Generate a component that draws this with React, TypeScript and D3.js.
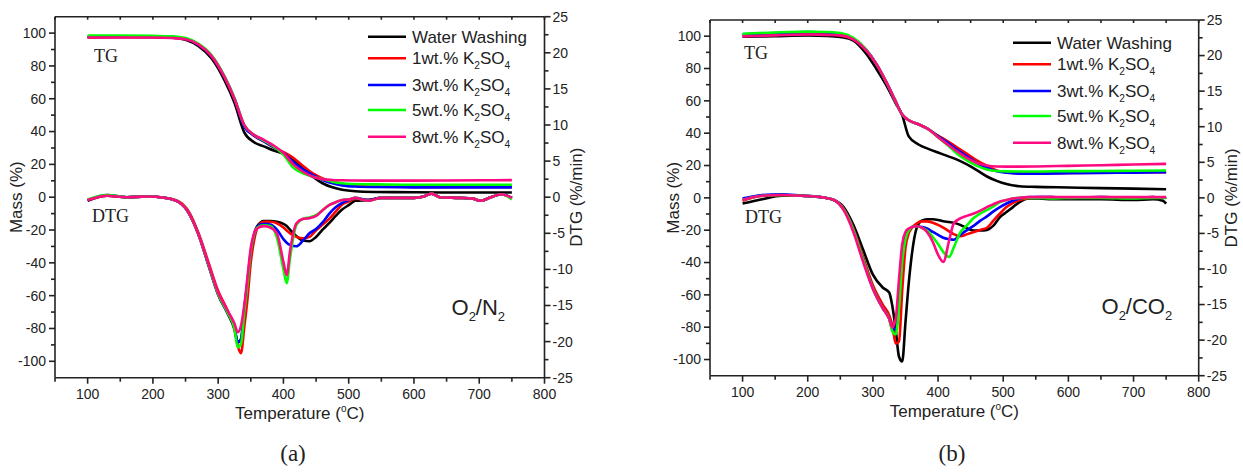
import React from "react";
import * as d3 from "d3";

// ---- data (TG in Mass %, DTG in %/min) ----
const SERIES = ["Water Washing", "1wt.% K_2SO_4", "3wt.% K_2SO_4", "5wt.% K_2SO_4", "8wt.% K_2SO_4"];
const COLORS = ["#000000", "#ff0000", "#0000ff", "#00ff00", "#ff0a80"];

const X_TICKS = [100, 200, 300, 400, 500, 600, 700, 800];
const Y_LEFT_TICKS = [-100, -80, -60, -40, -20, 0, 20, 40, 60, 80, 100];
const Y_RIGHT_TICKS = [-25, -20, -15, -10, -5, 0, 5, 10, 15, 20, 25];

// (a) O2/N2
const T_TG_A = [100, 150, 200, 230, 250, 270, 290, 310, 325, 340, 355, 370, 385, 400, 415, 430, 445, 460, 475, 490, 510, 540, 600, 650, 700, 750];
const TG_A = [
  [97.5, 97.6, 97.5, 97.2, 96.0, 92.0, 84.5, 71.0, 57.5, 39.5, 33.5, 31.0, 28.5, 26.5, 22.5, 17.5, 12.5, 8.5, 6.0, 4.5, 3.6, 3.2, 3.0, 2.9, 2.9, 2.9],
  [97.5, 97.6, 97.6, 97.4, 96.5, 93.0, 86.0, 73.0, 60.0, 43.5, 37.5, 34.0, 30.5, 27.5, 24.0, 19.0, 14.5, 11.5, 9.5, 8.0, 7.0, 6.5, 6.3, 6.3, 6.3, 6.3],
  [97.8, 97.9, 97.8, 97.5, 96.5, 93.0, 86.0, 73.0, 60.0, 43.0, 37.5, 34.0, 30.5, 27.0, 21.5, 17.0, 13.5, 10.5, 8.5, 7.2, 6.5, 6.2, 6.0, 6.0, 6.0, 6.0],
  [98.5, 98.5, 98.3, 98.0, 97.0, 93.5, 86.5, 73.5, 60.5, 44.0, 38.0, 34.5, 31.0, 26.0, 18.0, 14.5, 12.5, 11.0, 9.5, 8.5, 8.0, 7.8, 7.6, 7.6, 7.6, 7.6],
  [97.3, 97.3, 97.3, 97.0, 96.3, 93.0, 86.0, 73.0, 60.0, 44.0, 38.0, 35.0, 31.5, 27.0, 20.0, 15.5, 12.5, 11.0, 10.5, 10.3, 10.2, 10.1, 10.1, 10.2, 10.3, 10.4],
];
const T_DTG_A = [100, 130, 160, 190, 220, 240, 255, 270, 285, 300, 315, 325, 330, 335, 340, 345, 350, 355, 360, 370, 380, 390, 400, 405, 410, 420, 430, 440, 450, 460, 470, 480, 490, 500, 510, 530, 550, 575, 600, 615, 627, 640, 670, 690, 702, 718, 734, 750];
const DTG_A = [
  [-0.5, 0.2, 0.0, 0.1, -0.1, -0.7, -2.2, -5.2, -9.4, -13.5, -16.2, -18.3, -20.1, -19.8, -15.5, -12.0, -8.0, -5.2, -4.0, -3.3, -3.3, -3.4, -3.7, -4.0, -4.5, -5.4, -6.0, -6.1, -5.5, -4.5, -3.6, -2.6, -1.7, -1.1, -0.5, -0.4, -0.1, -0.1, -0.1, 0.1, 0.5, 0.0, -0.1, -0.2, -0.5, 0.0, 0.4, -0.1],
  [-0.4, 0.2, 0.0, 0.1, -0.1, -0.6, -2.0, -5.0, -9.0, -13.0, -15.8, -18.2, -20.6, -21.6, -18.0, -14.0, -9.0, -6.0, -4.3, -3.4, -3.4, -3.6, -4.2, -4.6, -5.0, -5.5, -5.7, -5.5, -4.6, -3.8, -3.0, -2.0, -1.0, -0.6, -0.2, -0.4, -0.1, -0.1, -0.1, 0.1, 0.5, 0.0, -0.1, -0.2, -0.5, 0.0, 0.4, -0.1],
  [-0.4, 0.3, 0.0, 0.1, -0.1, -0.7, -2.2, -5.2, -9.3, -13.4, -16.1, -18.0, -20.1, -19.6, -15.5, -11.5, -7.5, -5.2, -4.1, -3.7, -3.8, -4.5, -5.8, -6.3, -6.6, -6.8, -6.0, -5.0, -4.4, -3.5, -2.3, -1.4, -0.8, -0.4, -0.1, -0.4, -0.1, -0.1, -0.1, 0.1, 0.5, 0.0, -0.1, -0.2, -0.5, 0.0, 0.4, -0.1],
  [-0.3, 0.3, 0.0, 0.1, -0.1, -0.7, -2.2, -5.2, -9.3, -13.4, -16.1, -18.2, -20.8, -20.3, -16.0, -12.0, -7.5, -5.2, -4.2, -3.9, -4.0, -5.6, -10.0, -11.9, -8.5, -3.8, -3.0, -2.8, -2.5, -1.8, -1.1, -0.7, -0.4, -0.3, -0.1, -0.5, -0.1, -0.1, -0.1, 0.1, 0.5, 0.0, -0.1, -0.2, -0.5, 0.0, 0.4, -0.3],
  [-0.4, 0.2, 0.0, 0.1, -0.1, -0.7, -2.2, -5.2, -9.2, -13.2, -15.8, -17.5, -18.7, -17.8, -15.0, -11.0, -7.0, -5.0, -4.3, -4.0, -4.2, -5.0, -9.0, -10.8, -7.5, -3.6, -3.0, -2.9, -2.6, -1.8, -1.1, -0.7, -0.4, -0.3, -0.1, -0.5, -0.1, -0.1, -0.1, 0.1, 0.5, 0.0, -0.1, -0.2, -0.5, 0.0, 0.4, -0.1],
];

// (b) O2/CO2
const T_TG_B = [100, 150, 200, 230, 250, 270, 290, 305, 320, 335, 345, 355, 370, 385, 400, 415, 430, 445, 460, 475, 490, 505, 525, 550, 600, 650, 700, 750];
const TG_B = [
  [99.6, 100.0, 100.4, 100.2, 99.5, 97.3, 89.0, 80.0, 70.0, 58.5, 51.0, 38.0, 33.0, 30.3, 28.0, 25.8, 23.5, 20.5, 17.0, 13.2, 10.5, 8.5, 7.2, 6.8, 6.4, 6.0, 5.7, 5.3],
  [100.3, 101.0, 101.5, 101.3, 100.5, 98.0, 91.0, 83.0, 72.0, 59.5, 51.5, 48.0, 45.5, 42.5, 38.5, 35.0, 31.0, 27.0, 23.0, 19.8, 17.0, 15.8, 15.2, 15.2, 15.4, 15.6, 15.8, 15.9],
  [101.2, 102.0, 102.5, 102.3, 101.5, 98.5, 91.5, 83.0, 72.0, 59.5, 51.5, 48.0, 45.5, 42.5, 38.0, 34.0, 29.5, 25.5, 21.5, 18.5, 16.5, 15.5, 15.0, 15.0, 15.2, 15.4, 15.6, 15.8],
  [101.5, 102.3, 102.8, 102.6, 102.0, 99.0, 91.5, 83.0, 72.0, 59.5, 51.5, 48.0, 45.5, 42.5, 37.5, 32.5, 27.0, 23.0, 19.8, 17.5, 16.6, 16.4, 16.3, 16.3, 16.5, 16.6, 16.8, 16.9],
  [99.9, 100.5, 101.0, 100.8, 100.5, 98.0, 91.0, 83.0, 72.0, 59.5, 51.5, 48.0, 45.5, 42.5, 37.5, 33.0, 28.5, 24.5, 21.5, 20.0, 19.4, 19.3, 19.3, 19.4, 19.8, 20.2, 20.6, 21.0],
];
const T_DTG_B = [100, 130, 160, 190, 220, 240, 255, 270, 285, 300, 315, 325, 330, 335, 340, 345, 350, 355, 360, 367, 375, 383, 392, 400, 408, 417, 424, 434, 445, 455, 465, 475, 485, 495, 505, 515, 525, 540, 555, 575, 600, 650, 700, 730, 745, 750];
const DTG_B = [
  [-0.8, -0.2, 0.3, 0.3, 0.1, -0.3, -1.3, -3.8, -7.3, -10.8, -12.6, -13.3, -15.3, -18.5, -22.3, -23.0, -17.5, -12.0, -7.8, -4.3, -3.2, -3.0, -3.0, -3.1, -3.3, -3.4, -3.5, -3.8, -4.3, -4.6, -4.6, -4.5, -3.9, -2.7, -2.0, -1.3, -0.6, -0.1, -0.1, -0.2, -0.2, -0.2, -0.3, -0.2, -0.4, -0.8],
  [-0.4, 0.3, 0.4, 0.3, 0.1, -0.3, -1.5, -4.3, -8.3, -12.3, -15.0, -16.5, -18.0, -20.5, -20.2, -13.0, -7.0, -5.0, -4.2, -3.6, -3.3, -3.3, -3.5, -3.8, -4.2, -4.7, -5.1, -5.4, -5.1, -4.8, -4.5, -4.2, -3.2, -2.2, -1.3, -0.7, -0.3, 0.0, 0.1, 0.1, 0.0, 0.1, 0.0, 0.1, 0.0, 0.1],
  [-0.1, 0.4, 0.5, 0.3, 0.1, -0.3, -1.6, -4.5, -8.7, -12.7, -15.5, -17.0, -18.5, -18.5, -14.5, -8.0, -5.5, -4.5, -4.1, -4.0, -4.1, -4.3, -4.8, -5.2, -5.6, -5.8, -5.9, -5.2, -4.5, -3.9, -3.2, -2.6, -1.9, -1.3, -0.8, -0.4, -0.1, 0.1, 0.1, 0.1, 0.0, 0.1, 0.0, 0.1, 0.0, 0.1],
  [-0.3, 0.3, 0.4, 0.3, 0.1, -0.3, -1.6, -4.5, -8.7, -12.7, -15.5, -17.0, -18.8, -19.2, -15.5, -9.0, -5.8, -4.6, -4.1, -4.0, -4.2, -4.6, -5.5, -6.5, -7.6, -8.3, -7.0, -4.9, -3.8, -2.8, -2.2, -1.7, -1.2, -0.6, -0.3, -0.1, 0.0, 0.0, 0.0, -0.1, 0.0, 0.0, -0.1, 0.0, 0.0, 0.0],
  [-0.3, 0.3, 0.4, 0.3, 0.1, -0.3, -1.7, -4.8, -9.0, -12.8, -15.5, -17.0, -18.2, -17.0, -11.5, -6.5, -4.8, -4.3, -4.1, -4.0, -4.2, -4.8, -6.2, -8.0, -9.0, -6.0, -3.6, -2.9, -2.5, -2.2, -1.8, -1.3, -0.9, -0.5, -0.3, -0.1, 0.0, 0.1, 0.1, 0.1, 0.1, 0.1, 0.1, 0.1, 0.1, 0.1],
];

// ---- layout ----
const W = 1243, H = 472;
const SANS = "'Liberation Sans', Arial, Helvetica, sans-serif";
const SERIF = "'Liberation Serif', 'Times New Roman', Times, serif";
const INK = "#222";
const LEGEND_OFFSETS = [0, 21.6, 48.3, 73.3, 100];

type Cfg = {
  x0: number; x1: number; y0: number; y1: number;
  legX: number; legY: number; massX: number; dtgX: number;
  tgPos: [number, number]; dtgPos: [number, number];
  gas: [string, string, string, string]; gasPos: [number, number];
  caption: string; capX: number;
};

const PANEL_A: Cfg = {
  x0: 55, x1: 544.5, y0: 16.7, y1: 377.7, legX: 368, legY: 36.7, massX: 21.5, dtgX: 581.5,
  tgPos: [94, 61.5], dtgPos: [92, 221.5], gas: ["O", "2", "/N", "2"], gasPos: [451.5, 315],
  caption: "(a)", capX: 293,
};
const PANEL_B: Cfg = {
  x0: 710, x1: 1198.7, y0: 20, y1: 375.7, legX: 1013, legY: 42.7, massX: 678.5, dtgX: 1236.5,
  tgPos: [744, 58.5], dtgPos: [745, 223], gas: ["O", "2", "/CO", "2"], gasPos: [1101.5, 313.5],
  caption: "(b)", capX: 952,
};

function Label({ text, x, y, size }: { text: string; x: number; y: number; size: number }) {
  // "_d" renders d as a subscript
  const parts = text.split(/(_\d)/).filter(p => p.length);
  let sub = false;
  return (
    <text x={x} y={y} fontSize={size} fontFamily={SANS} fill={INK}>
      {parts.map((p, i) => {
        if (p.startsWith("_")) {
          sub = true;
          return <tspan key={i} fontSize={size * 0.6} dy={5}>{p.slice(1)}</tspan>;
        }
        const dy = sub ? -5 : 0;
        sub = false;
        return <tspan key={i} dy={dy}>{p}</tspan>;
      })}
    </text>
  );
}

function Panel({ cfg, tT, tg, dT, dtg }: { cfg: Cfg; tT: number[]; tg: number[][]; dT: number[]; dtg: number[][] }) {
  const x = d3.scaleLinear().domain([50, 800]).range([cfg.x0, cfg.x1]);
  const yL = d3.scaleLinear().domain([-110, 110]).range([cfg.y1, cfg.y0]);
  const yR = d3.scaleLinear().domain([-25, 25]).range([cfg.y1, cfg.y0]);

  const tgLine = d3.line<number>().x((_, i) => x(tT[i])).y(d => yL(d)).curve(d3.curveMonotoneX);
  const dtgLine = d3.line<number>().x((_, i) => x(dT[i])).y(d => yR(d)).curve(d3.curveMonotoneX);

  const xMinor = d3.range(50, 801, 50);
  const yLMinor = d3.range(-100, 101, 10);
  const yRMinor = d3.range(-25, 25.1, 2.5);
  const cy = (cfg.y0 + cfg.y1) / 2;
  const cx = (cfg.x0 + cfg.x1) / 2;
  const sw = 1.6;

  return (
    <g>
      {/* curves */}
      {SERIES.map((_, i) => (
        <g key={i} fill="none" stroke={COLORS[i]} strokeWidth={2.6} strokeLinejoin="round">
          <path d={tgLine(tg[i]) || ""} />
          <path d={dtgLine(dtg[i]) || ""} />
        </g>
      ))}

      {/* frame */}
      <g stroke={INK} strokeWidth={sw}>
        <line x1={cfg.x0} x2={cfg.x1} y1={cfg.y0} y2={cfg.y0} />
        <line x1={cfg.x0} x2={cfg.x1} y1={cfg.y1} y2={cfg.y1} />
        <line x1={cfg.x0} x2={cfg.x0} y1={cfg.y0} y2={cfg.y1} />
        <line x1={cfg.x1} x2={cfg.x1} y1={cfg.y0} y2={cfg.y1} />
        {xMinor.map(t => {
          const major = t % 100 === 0;
          return (
            <g key={t}>
              <line x1={x(t)} x2={x(t)} y1={cfg.y1} y2={cfg.y1 + (major ? 6 : 4)} />
              <line x1={x(t)} x2={x(t)} y1={cfg.y0} y2={cfg.y0 + 3} />
            </g>
          );
        })}
        {yLMinor.map(t => (
          <line key={t} x1={cfg.x0 - (t % 20 === 0 ? 6 : 4)} x2={cfg.x0} y1={yL(t)} y2={yL(t)} />
        ))}
        {yRMinor.map(t => (
          <line key={t} x1={cfg.x1} x2={cfg.x1 + (t % 5 === 0 ? 6 : 4)} y1={yR(t)} y2={yR(t)} />
        ))}
      </g>

      {/* tick labels */}
      <g fontFamily={SANS} fontSize={14} fill={INK}>
        {X_TICKS.map(t => (
          <text key={t} x={x(t)} y={cfg.y1 + 21} textAnchor="middle">{t}</text>
        ))}
        {Y_LEFT_TICKS.map(t => (
          <text key={t} x={cfg.x0 - 9} y={yL(t)} dy="0.35em" textAnchor="end">{t}</text>
        ))}
        {Y_RIGHT_TICKS.map(t => (
          <text key={t} x={cfg.x1 + 8} y={yR(t)} dy="0.35em" textAnchor="start">{t}</text>
        ))}
      </g>

      {/* axis titles */}
      <g fontFamily={SANS} fontSize={17} fill={INK}>
        <text x={cx} y={cfg.y1 + 41} textAnchor="middle">
          Temperature (<tspan fontSize={10} dy={-7}>o</tspan><tspan dy={7}>C)</tspan>
        </text>
        <text transform={`translate(${cfg.massX},${cy}) rotate(-90)`} textAnchor="middle">Mass (%)</text>
        <text transform={`translate(${cfg.dtgX},${cy}) rotate(-90)`} textAnchor="middle">DTG (%/min)</text>
      </g>

      {/* TG / DTG tags */}
      <g fontFamily={SERIF} fontSize={18} fill={INK}>
        <text x={cfg.tgPos[0]} y={cfg.tgPos[1]}>TG</text>
        <text x={cfg.dtgPos[0]} y={cfg.dtgPos[1]}>DTG</text>
      </g>

      {/* gas atmosphere */}
      <text x={cfg.gasPos[0]} y={cfg.gasPos[1]} fontFamily={SANS} fontSize={22} fill={INK}>
        {cfg.gas[0]}<tspan fontSize={13} dy={6}>{cfg.gas[1]}</tspan>
        <tspan dy={-6}>{cfg.gas[2]}</tspan><tspan fontSize={13} dy={6}>{cfg.gas[3]}</tspan>
      </text>

      {/* legend */}
      {SERIES.map((s, i) => {
        const ly = cfg.legY + LEGEND_OFFSETS[i];
        return (
          <g key={s}>
            <line x1={cfg.legX} x2={cfg.legX + 38} y1={ly} y2={ly} stroke={COLORS[i]} strokeWidth={2.6} />
            <Label text={s} x={cfg.legX + 44} y={ly + 6} size={17} />
          </g>
        );
      })}

      {/* caption */}
      <text x={cfg.capX} y={461} textAnchor="middle" fontFamily={SERIF} fontSize={23} fill={INK}>{cfg.caption}</text>
    </g>
  );
}

export default function App() {
  return (
    <div style={{ position: "absolute", left: 0, top: 0, width: W, height: H, background: "#fff" }}>
      <svg width={W} height={H} style={{ display: "block" }}>
        <rect width={W} height={H} fill="#fff" />
        <Panel cfg={PANEL_A} tT={T_TG_A} tg={TG_A} dT={T_DTG_A} dtg={DTG_A} />
        <Panel cfg={PANEL_B} tT={T_TG_B} tg={TG_B} dT={T_DTG_B} dtg={DTG_B} />
      </svg>
    </div>
  );
}
